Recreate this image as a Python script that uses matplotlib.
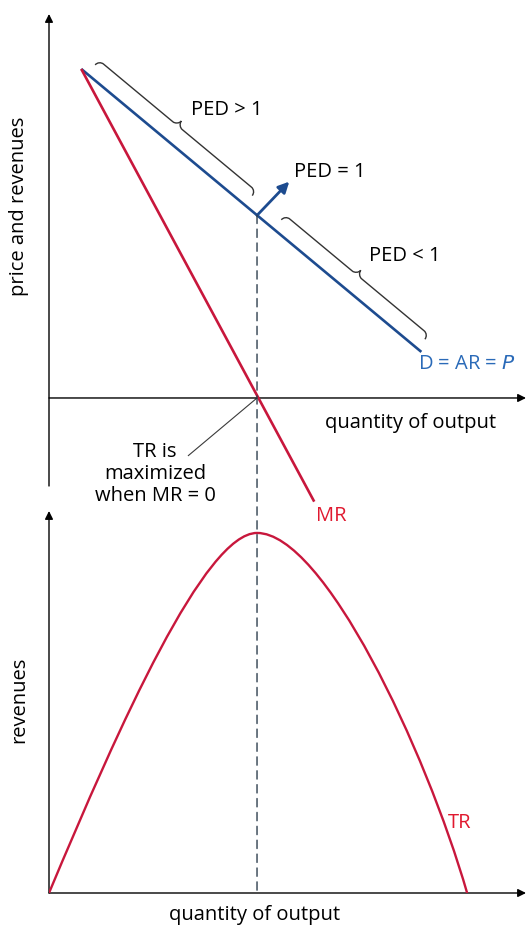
import numpy as np
import matplotlib
matplotlib.use('Agg')
import matplotlib.pyplot as plt
from matplotlib.path import Path
from matplotlib.patches import PathPatch, ConnectionPatch

# Colours / fonts
BLUE = '#1d4b8f'
BLUE_TXT = '#2a6ab8'
RED = '#c8173c'
RED_TXT = '#e0192f'
DASH = '#2e3e4e'
FONT = 'Open Sans'
FS = 14.5

plt.rcParams['font.family'] = [FONT, 'DejaVu Sans']

# Data
demand_q = [1.55, 17.9]
demand_p = [20.0, 2.8]
mr_q = [1.55, 12.75]
mr_p = [20.0, -6.3]
q_unit = 10.0                    # MR = 0, PED = 1
ped_arrow_q = [10.0, 11.55]
ped_arrow_p = [11.1, 13.15]
brace1_q = [1.85, 9.4]
brace2_q = [10.8, 17.7]
# TR curve as two cubic bezier halves (control points)
tr_q = [0.0, 3.4, 7.5, 10.0, 13.2, 18.1, 20.1]
tr_val = [0.0, 46.9, 100.0, 100.0, 100.0, 40.0, 0.0]

W, H = 528, 928
fig = plt.figure(figsize=(W / 100, H / 100), dpi=100)


def px_axes(left, top, right, bottom):
    return fig.add_axes([left / W, 1 - bottom / H, (right - left) / W, (bottom - top) / H])


ax1 = px_axes(49, 15, 526, 487)
ax2 = px_axes(49, 512, 526, 894)
ax1.set_xlim(0, 22.93)
ax1.set_ylim(-5.35, 23.34)
ax2.set_xlim(0, 22.93)
ax2.set_ylim(0, 106.1)
for ax in (ax1, ax2):
    ax.set_axis_off()

arrow_kw = dict(arrowstyle='-|>', color='black', lw=1.0, mutation_scale=12,
                shrinkA=0, shrinkB=0)
# top panel axes
ax1.annotate('', xy=(0, 1), xytext=(0, 0), xycoords='axes fraction',
             textcoords='axes fraction', arrowprops=arrow_kw)
ax1.annotate('', xy=(ax1.get_xlim()[1], 0), xytext=(0, 0), arrowprops=arrow_kw)
# bottom panel axes
ax2.annotate('', xy=(0, 1), xytext=(0, 0), xycoords='axes fraction',
             textcoords='axes fraction', arrowprops=arrow_kw)
ax2.annotate('', xy=(1, 0), xytext=(0, 0), xycoords='axes fraction',
             textcoords='axes fraction', arrowprops=arrow_kw)

# demand and MR
ax1.plot(demand_q, demand_p, color=BLUE, lw=1.9, solid_capstyle='butt', zorder=3)
ax1.plot(mr_q, mr_p, color=RED, lw=1.9, solid_capstyle='butt', clip_on=False, zorder=3)

# unit elastic point arrow
ax1.annotate('', xy=(ped_arrow_q[1], ped_arrow_p[1]), xytext=(ped_arrow_q[0], ped_arrow_p[0]),
             arrowprops=dict(arrowstyle='-|>', color=BLUE, lw=2.0, mutation_scale=16,
                             shrinkA=0, shrinkB=0), zorder=4)

# dashed line across both panels
p_unit = np.interp(q_unit, demand_q, demand_p)
con = ConnectionPatch(xyA=(q_unit, p_unit), coordsA=ax1.transData,
                      xyB=(q_unit, 0), coordsB=ax2.transData,
                      color=DASH, lw=1.0, linestyle=(0, (6, 4)), zorder=1)
fig.add_artist(con)

# TR curve
tr_codes = [Path.MOVETO] + [Path.CURVE4] * 6
tr_path = Path(list(zip(tr_q, tr_val)), tr_codes)
ax2.add_patch(PathPatch(tr_path, fill=False, edgecolor=RED, lw=1.7, zorder=3))


def brace(ax, q0, q1, gap=12, r=6):
    # curly brace parallel to demand, drawn in display space
    a = ax.transData.transform((q0, np.interp(q0, demand_q, demand_p)))
    b = ax.transData.transform((q1, np.interp(q1, demand_q, demand_p)))
    d = b - a
    L = np.hypot(*d)
    u = d / L
    n = np.array([-u[1], u[0]])
    if n[1] < 0:
        n = -n
    m = L / 2
    k = 0.55
    pts = [(0, 0), (0, k * r), (r - k * r, r), (r, r),
           (m - r, r), (m - k * r, r), (m, r + (1 - k) * r), (m, 2 * r),
           (m, r + (1 - k) * r), (m + k * r, r), (m + r, r),
           (L - r, r), (L - r + k * r, r), (L, k * r), (L, 0)]
    codes = [Path.MOVETO, Path.CURVE4, Path.CURVE4, Path.CURVE4,
             Path.LINETO, Path.CURVE4, Path.CURVE4, Path.CURVE4,
             Path.CURVE4, Path.CURVE4, Path.CURVE4,
             Path.LINETO, Path.CURVE4, Path.CURVE4, Path.CURVE4]
    verts = [a + n * (gap + v) + u * s for s, v in pts]
    fig.add_artist(PathPatch(Path(verts, codes), fill=False, edgecolor='#333333',
                             lw=1.0, transform=None))


brace(ax1, *brace1_q)
brace(ax1, *brace2_q)

# labels
ax1.text(8.55, 17.55, 'PED > 1', fontsize=FS, ha='center', va='center')
ax1.text(13.5, 13.8, 'PED = 1', fontsize=FS, ha='center', va='center')
ax1.text(17.1, 8.7, 'PED < 1', fontsize=FS, ha='center', va='center')
ax1.text(20.1, 2.1, 'D = AR = $\\mathit{P}$', fontsize=FS, ha='center', va='center',
         color=BLUE_TXT)
ax1.text(17.36, -1.45, 'quantity of output', fontsize=FS, ha='center', va='center')
ax1.text(13.55, -7.1, 'MR', fontsize=FS, ha='center', va='center', color=RED_TXT)
ax1.text(5.1, -4.55, 'TR is\nmaximized\nwhen MR = 0', fontsize=FS, ha='center',
         va='center', linespacing=1.12)
ax1.plot([q_unit, 6.7], [0, -3.5], color='#3a3a3a', lw=0.8, zorder=2)
ax1.text(-1.45, 11.7, 'price and revenues', fontsize=FS, rotation=90,
         ha='center', va='center')

ax2.text(-1.45, 53.9, 'revenues', fontsize=FS, rotation=90, ha='center', va='center')
ax2.text(9.9, -5.8, 'quantity of output', fontsize=FS, ha='center', va='center')
ax2.text(19.75, 19.7, 'TR', fontsize=FS, ha='center', va='center', color=RED_TXT)

fig.savefig('out.png', dpi=100)
